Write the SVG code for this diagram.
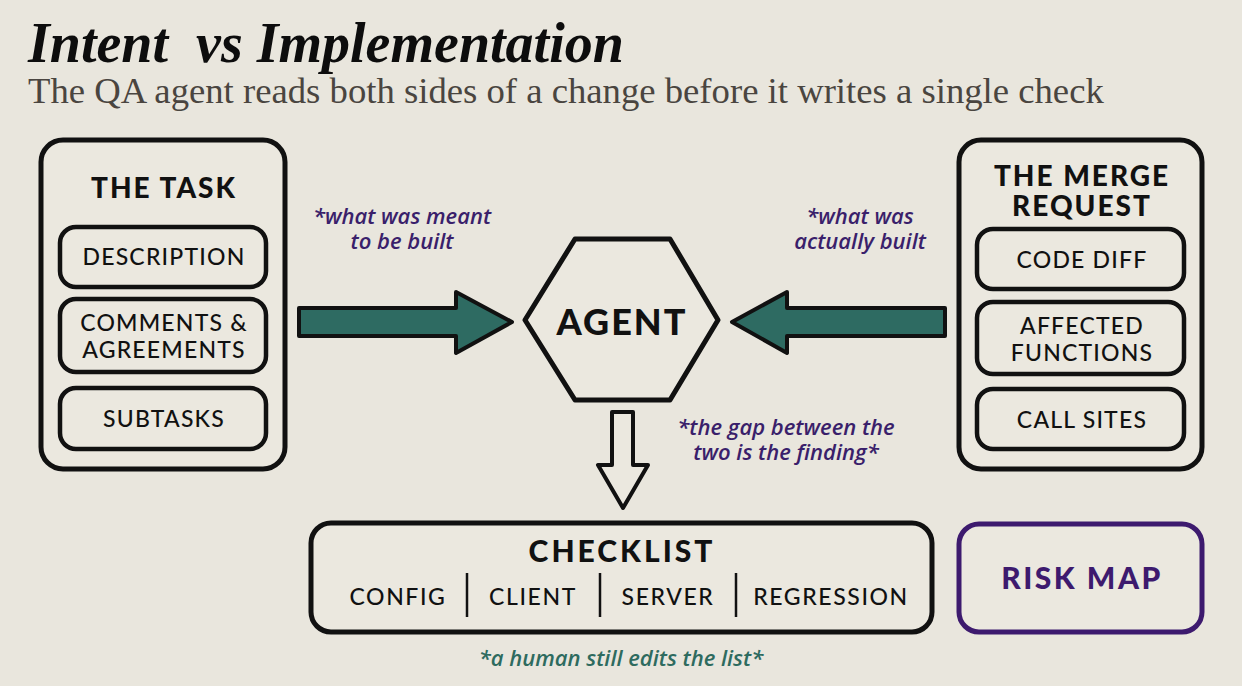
<svg xmlns="http://www.w3.org/2000/svg" width="1242" height="686" viewBox="0 0 1242 686">
<style>
.bg{fill:#e9e6dd}
.box{fill:#ebe8df;stroke:#111;stroke-width:5}
.inner{fill:#ebe8df;stroke:#111;stroke-width:4.5}
.hd{font-family:Lato,"Noto Sans",sans-serif;font-weight:900;fill:#111;text-anchor:middle;font-size:28px;letter-spacing:2px}
.it{font-family:Lato,"Noto Sans",sans-serif;font-weight:500;fill:#111;text-anchor:middle;font-size:23px;letter-spacing:1.2px}
.note{font-family:"Open Sans","Noto Sans",sans-serif;font-style:italic;font-weight:600;font-size:22px;fill:#3a1f6b;text-anchor:middle}
.arrow{fill:#2e6b62;stroke:#111;stroke-width:4;stroke-linejoin:round}
</style>
<rect class="bg" x="0" y="0" width="1242" height="686"/>
<g id="title">
<text x="28" y="62" xml:space="preserve" font-family="Liberation Serif,serif" font-weight="bold" font-style="italic" font-size="56" fill="#0d0d0d">Intent  vs Implementation</text>
<text x="28" y="103" font-family="Liberation Serif,serif" font-size="36.7" fill="#4a4540">The QA agent reads both sides of a change before it writes a single check</text>
</g>
<g id="task">
<rect class="box" x="41" y="140" width="244" height="329" rx="22"/>
<text class="hd" x="164" y="198">THE TASK</text>
<rect class="inner" x="60" y="227" width="206" height="60" rx="16"/>
<text class="it" x="164" y="265">DESCRIPTION</text>
<rect class="inner" x="60" y="299" width="206" height="73" rx="16"/>
<text class="it" x="164" y="331"><tspan x="164">COMMENTS &amp;</tspan><tspan x="164" dy="27">AGREEMENTS</tspan></text>
<rect class="inner" x="60" y="388" width="206" height="61" rx="16"/>
<text class="it" x="164" y="427">SUBTASKS</text>
</g>
<g id="mr">
<rect class="box" x="959" y="140" width="243" height="329" rx="22"/>
<text class="hd" x="1082" y="186"><tspan x="1082">THE MERGE</tspan><tspan x="1082" dy="30">REQUEST</tspan></text>
<rect class="inner" x="977" y="229" width="207" height="60" rx="16"/>
<text class="it" x="1082" y="268">CODE DIFF</text>
<rect class="inner" x="977" y="302" width="207" height="72" rx="16"/>
<text class="it" x="1082" y="334"><tspan x="1082">AFFECTED</tspan><tspan x="1082" dy="27">FUNCTIONS</tspan></text>
<rect class="inner" x="977" y="389" width="207" height="60" rx="16"/>
<text class="it" x="1082" y="428">CALL SITES</text>
</g>
<g id="agent">
<polygon points="525,320 575,239 670,239 718,320 670,400 575,400" fill="#ebe8df" stroke="#111" stroke-width="5" stroke-linejoin="round"/>
<text class="hd" x="622" y="335" style="font-size:36px">AGENT</text>
</g>
<g id="connectors">
<polygon class="arrow" points="299,308 456,308 456,292 512,322 456,353 456,336 299,336"/>
<polygon class="arrow" points="945,308 787,308 787,292 732,322 787,353 787,336 945,336"/>
<polygon points="612,412 633,412 633,465 648,465 623,508 598,465 612,465" fill="#ebe8df" stroke="#111" stroke-width="4" stroke-linejoin="round"/>
</g>
<g id="notes">
<text class="note" x="402" y="224"><tspan x="402">*what was meant</tspan><tspan x="402" dy="25">to be built</tspan></text>
<text class="note" x="860" y="224"><tspan x="860">*what was</tspan><tspan x="860" dy="25">actually built</tspan></text>
<text class="note" x="786" y="435"><tspan x="786">*the gap between the</tspan><tspan x="786" dy="25">two is the finding*</tspan></text>
</g>
<g id="checklist">
<rect class="box" x="311" y="523" width="621" height="109" rx="20"/>
<text class="hd" x="622" y="562" style="font-size:30px;letter-spacing:3px">CHECKLIST</text>
<text class="it" x="398" y="605" style="letter-spacing:1.6px">CONFIG</text>
<text class="it" x="533" y="605" style="letter-spacing:1.6px">CLIENT</text>
<text class="it" x="668" y="605" style="letter-spacing:1.6px">SERVER</text>
<text class="it" x="831" y="605" style="letter-spacing:1.6px">REGRESSION</text>
<g stroke="#111" stroke-width="2.5">
<line x1="467" y1="573" x2="467" y2="617"/>
<line x1="600" y1="573" x2="600" y2="617"/>
<line x1="736" y1="573" x2="736" y2="617"/>
</g>
<text class="note" x="621" y="666" style="fill:#2e6b5f">*a human still edits the list*</text>
</g>
<g id="riskmap">
<rect x="959" y="524" width="243" height="108" rx="20" fill="#ebe8df" stroke="#3d1a6e" stroke-width="5"/>
<text class="hd" x="1082" y="589" style="fill:#3d1a6e;font-size:30px;letter-spacing:2.5px">RISK MAP</text>
</g>
</svg>
